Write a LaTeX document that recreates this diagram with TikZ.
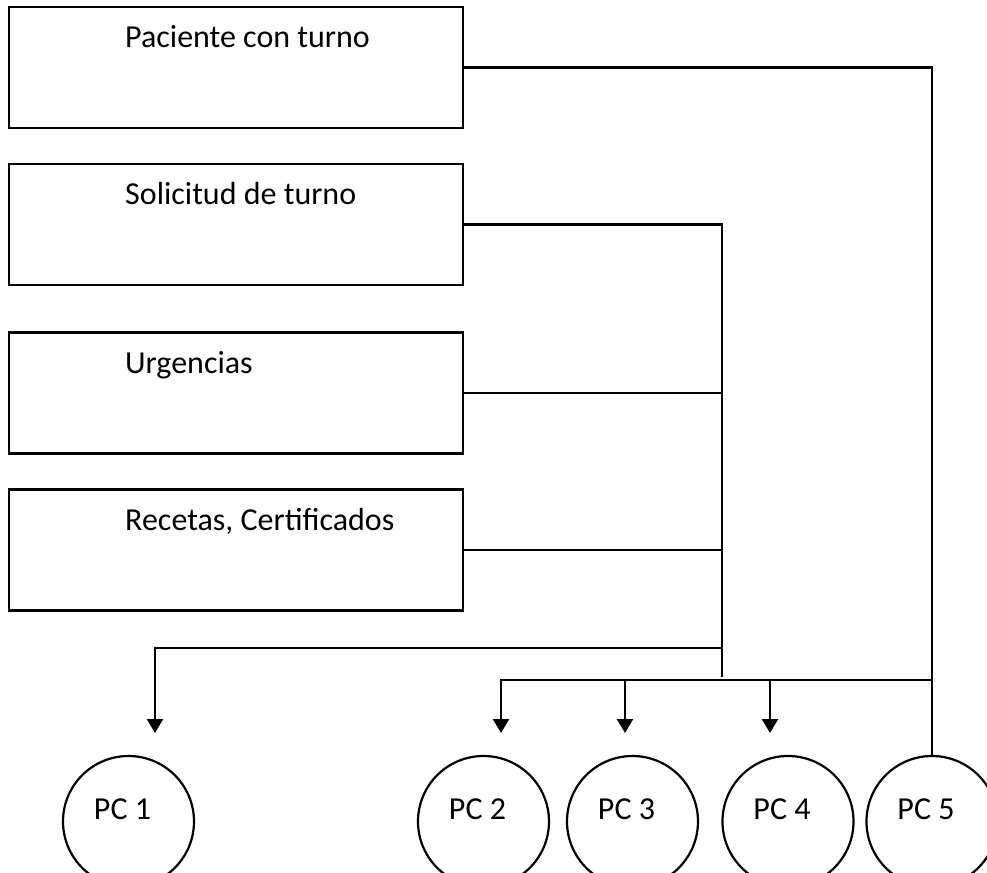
\documentclass[tikz,border=0pt]{standalone}
\usepackage{fontspec}
\setmainfont{Carlito}
\usetikzlibrary{arrows.meta,positioning,calc}
\tikzset{
  box/.style={rectangle,draw=black,line width=1.2pt,minimum width=227pt,
              minimum height=60.5pt,inner sep=0pt},
  boxtext/.style={anchor=base west,inner sep=0pt,xshift=58.5pt,yshift=-21pt,
                  font=\fontsize{16}{19}\selectfont},
  pc/.style={circle,draw=black,line width=1.1pt,minimum size=65.5pt,inner sep=0pt},
  pctext/.style={anchor=base,inner sep=0pt,xshift=-3pt,yshift=6pt,
                 font=\fontsize{16}{19}\selectfont},
  ln/.style={line width=1.2pt},
  fl/.style={ln,-{Triangle[length=7pt,width=8pt]}},
}
\begin{document}
\begin{tikzpicture}[x=0.5pt,y=-0.5pt]
  \useasboundingbox (0,0) rectangle (987,873);
  \clip (0,0) rectangle (987,873);
  % -- request boxes, stacked on the left --
  \node[box,label={[boxtext]north west:Paciente con turno}]    (pac) at (236,67.5) {};
  \node[box,label={[boxtext]north west:Solicitud de turno}]    (sol) at (236,224.5) {};
  \node[box,label={[boxtext]north west:Urgencias}]             (urg) at (236,393) {};
  \node[box,label={[boxtext]north west:Recetas, Certificados}] (rec) at (236,550) {};
  % -- workstations along the bottom (cut by the page edge) --
  \foreach \i/\x in {1/128.5,2/483.5,3/632.5,4/788,5/932}
    \node[pc,label={[pctext]center:PC \i}] (pc\i) at (\x,821.5) {};
  % -- junctions of the collector and the two buses --
  \coordinate (jn)  at (722,677);
  \coordinate (hub) at (722,648);
  \coordinate (bus) at (932,680);
  \coordinate (t1) at (155,733);
  \coordinate (t2) at (501,733);
  \coordinate (t3) at (625,733);
  \coordinate (t4) at (770,733);
  % -- connectors --
  \draw[ln] (pac.east) -| (pc5.north);
  \draw[ln] (sol.east) -| (jn);
  \draw[ln] (urg.east) -- (urg.east -| jn);
  \draw[ln] (rec.east) -- (rec.east -| jn);
  \draw[fl] (hub) -| (t1);
  \draw[fl] (bus) -| (t2);
  \foreach \t in {t3,t4}{\draw[fl] (bus -| \t) -- (\t);}
\end{tikzpicture}
\end{document}
